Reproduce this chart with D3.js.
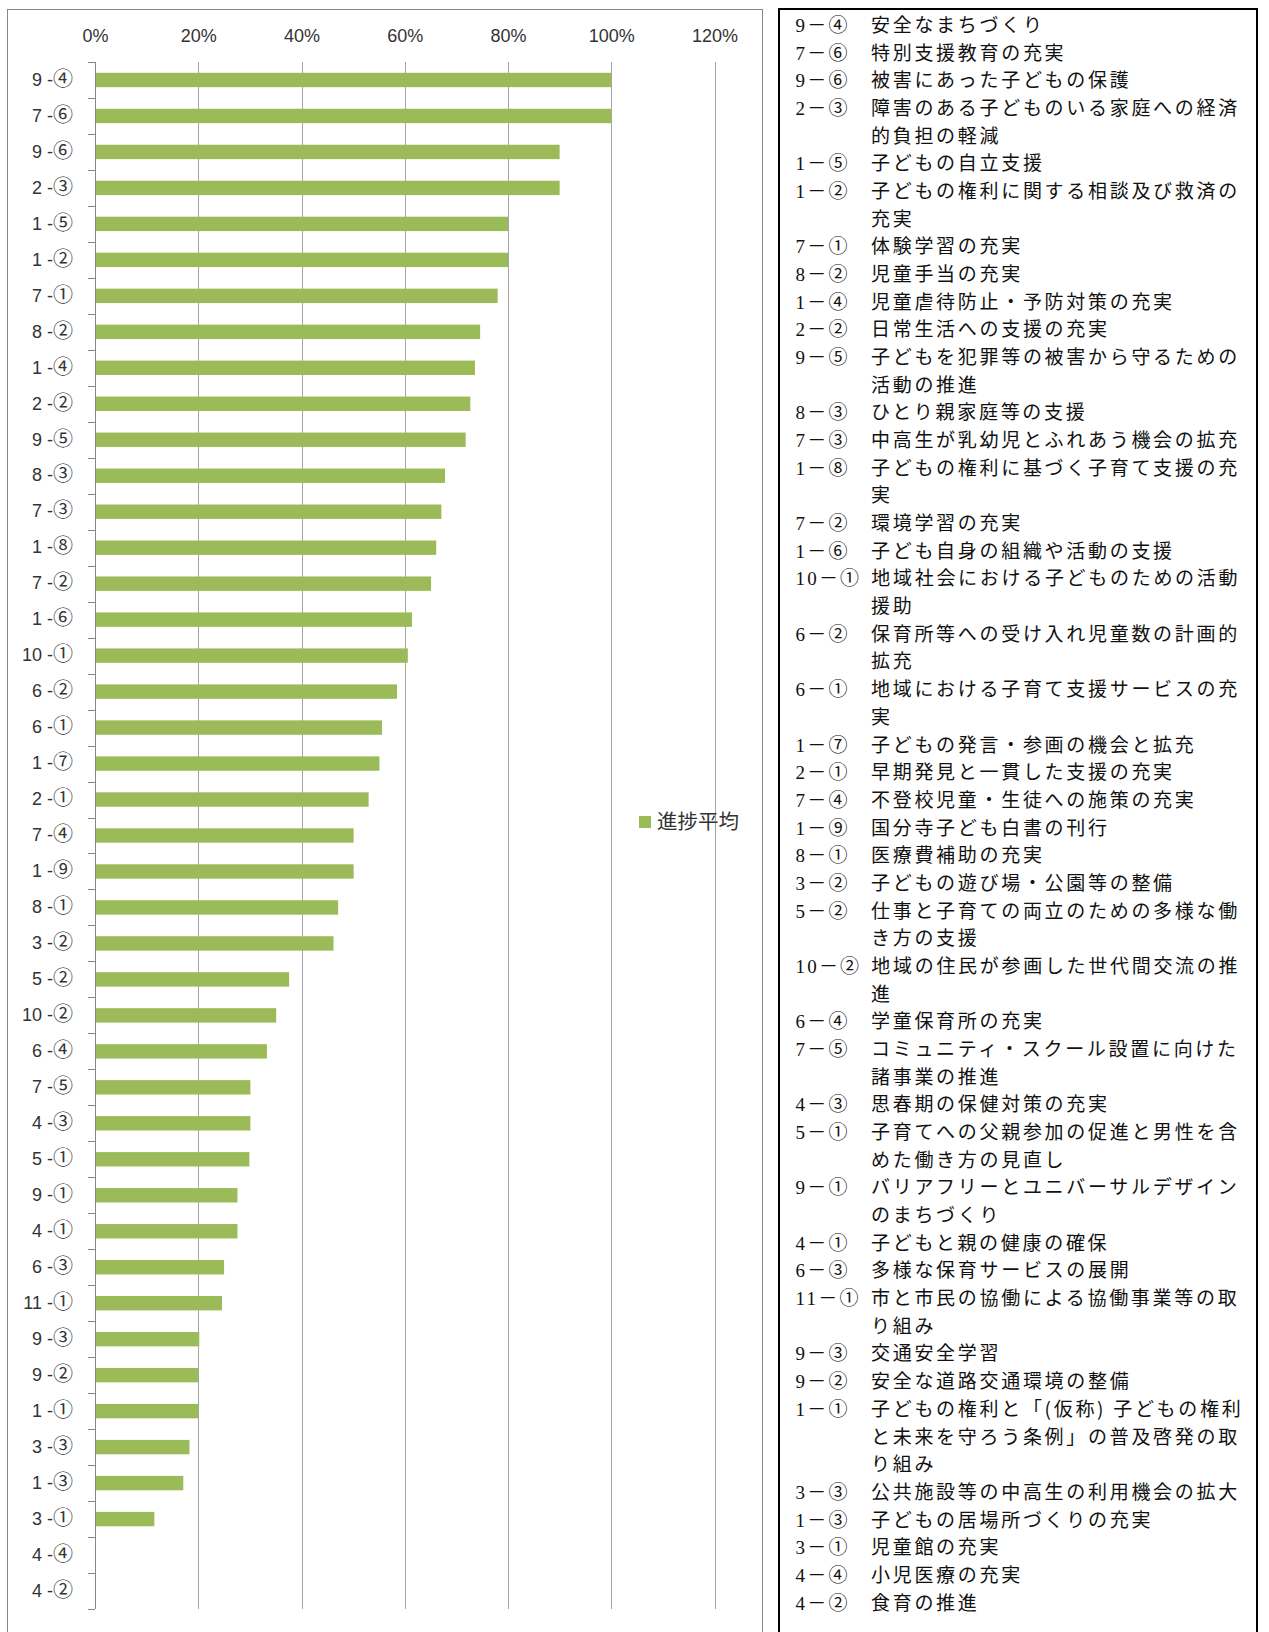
<!DOCTYPE html>
<html lang="ja">
<head>
<meta charset="utf-8">
<title>進捗平均</title>
<script src="https://cdn.jsdelivr.net/npm/d3@7"></script>
<style>
  html, body { margin: 0; padding: 0; background: #fff; }
  svg { display: block; }
</style>
</head>
<body>
<svg id="chart" width="1269" height="1632"></svg>
<script>
// Measure codes, top to bottom
const categories = [
  "9 -④", "7 -⑥", "9 -⑥", "2 -③", "1 -⑤", "1 -②", "7 -①", "8 -②", "1 -④", "2 -②",
  "9 -⑤", "8 -③", "7 -③", "1 -⑧", "7 -②", "1 -⑥", "10 -①", "6 -②", "6 -①", "1 -⑦",
  "2 -①", "7 -④", "1 -⑨", "8 -①", "3 -②", "5 -②", "10 -②", "6 -④", "7 -⑤", "4 -③",
  "5 -①", "9 -①", "4 -①", "6 -③", "11 -①", "9 -③", "9 -②", "1 -①", "3 -③", "1 -③",
  "3 -①", "4 -④", "4 -②"
];

// Average progress per measure
const progress = [
  1.00, 1.00, 0.90, 0.90, 0.80, 0.80, 0.78, 0.746, 0.736, 0.727,
  0.718, 0.678, 0.671, 0.661, 0.651, 0.614, 0.606, 0.585, 0.556, 0.551,
  0.530, 0.501, 0.501, 0.471, 0.462, 0.376, 0.351, 0.333, 0.301, 0.301,
  0.299, 0.276, 0.276, 0.250, 0.246, 0.202, 0.200, 0.200, 0.183, 0.171,
  0.115, 0, 0
];

const seriesName = "進捗平均";
const tickValues = [0, 0.2, 0.4, 0.6, 0.8, 1.0, 1.2];

// Measure titles, already broken into the lines shown in the side panel
const descriptions = [
  ["安全なまちづくり"],
  ["特別支援教育の充実"],
  ["被害にあった子どもの保護"],
  ["障害のある子どものいる家庭への経済", "的負担の軽減"],
  ["子どもの自立支援"],
  ["子どもの権利に関する相談及び救済の", "充実"],
  ["体験学習の充実"],
  ["児童手当の充実"],
  ["児童虐待防止・予防対策の充実"],
  ["日常生活への支援の充実"],
  ["子どもを犯罪等の被害から守るための", "活動の推進"],
  ["ひとり親家庭等の支援"],
  ["中高生が乳幼児とふれあう機会の拡充"],
  ["子どもの権利に基づく子育て支援の充", "実"],
  ["環境学習の充実"],
  ["子ども自身の組織や活動の支援"],
  ["地域社会における子どものための活動", "援助"],
  ["保育所等への受け入れ児童数の計画的", "拡充"],
  ["地域における子育て支援サービスの充", "実"],
  ["子どもの発言・参画の機会と拡充"],
  ["早期発見と一貫した支援の充実"],
  ["不登校児童・生徒への施策の充実"],
  ["国分寺子ども白書の刊行"],
  ["医療費補助の充実"],
  ["子どもの遊び場・公園等の整備"],
  ["仕事と子育ての両立のための多様な働", "き方の支援"],
  ["地域の住民が参画した世代間交流の推", "進"],
  ["学童保育所の充実"],
  ["コミュニティ・スクール設置に向けた", "諸事業の推進"],
  ["思春期の保健対策の充実"],
  ["子育てへの父親参加の促進と男性を含", "めた働き方の見直し"],
  ["バリアフリーとユニバーサルデザイン", "のまちづくり"],
  ["子どもと親の健康の確保"],
  ["多様な保育サービスの展開"],
  ["市と市民の協働による協働事業等の取", "り組み"],
  ["交通安全学習"],
  ["安全な道路交通環境の整備"],
  ["子どもの権利と「(仮称) 子どもの権利", "と未来を守ろう条例」の普及啓発の取", "り組み"],
  ["公共施設等の中高生の利用機会の拡大"],
  ["子どもの居場所づくりの充実"],
  ["児童館の充実"],
  ["小児医療の充実"],
  ["食育の推進"]
];

const barColor = "#9BBB59";
const gridColor = "#A5A5A5";
const axisColor = "#868686";
const latinFont = "'Liberation Sans', Arial, 'Noto Sans CJK JP', sans-serif";
const cjkFont = "'Noto Sans CJK JP', 'Noto Sans CJK SC', sans-serif";

const svg = d3.select("#chart");

// ---- chart frame ----
svg.append("rect")
  .attr("x", 7.5).attr("y", 9.5)
  .attr("width", 755).attr("height", 1640)
  .attr("fill", "#fff")
  .attr("stroke", axisColor).attr("stroke-width", 1);

const plot = { left: 95, right: 714.5, top: 62, bottom: 1609 };

const x = d3.scaleLinear().domain([0, 1.2]).range([plot.left, plot.right]);
const y = d3.scaleBand()
  .domain(categories)
  .range([plot.top, plot.bottom])
  .paddingInner(0.6)
  .paddingOuter(0.3);

const crisp = v => Math.round(v) + 0.5;

// vertical gridlines
svg.append("g")
  .selectAll("line")
  .data(tickValues.filter(d => d > 0))
  .join("line")
  .attr("x1", d => crisp(x(d))).attr("x2", d => crisp(x(d)))
  .attr("y1", plot.top).attr("y2", plot.bottom)
  .attr("stroke", gridColor).attr("stroke-width", 1);

// bars
svg.append("g")
  .selectAll("rect")
  .data(categories.map((c, i) => ({ c, v: progress[i] })))
  .join("rect")
  .attr("x", x(0))
  .attr("y", d => y(d.c))
  .attr("width", d => x(d.v) - x(0))
  .attr("height", y.bandwidth())
  .attr("fill", barColor);

// value axis along the top
const xAxis = svg.append("g")
  .attr("transform", `translate(0,${plot.top})`)
  .call(d3.axisTop(x).tickValues(tickValues).tickFormat(d3.format(".0%")).tickSize(0).tickPadding(20.5));
xAxis.select(".domain").remove();
xAxis.selectAll("text")
  .attr("font-family", latinFont)
  .attr("font-size", 18)
  .attr("fill", "#333");

// category axis on the left; the circled number is set a little larger
const yAxis = svg.append("g")
  .attr("transform", `translate(${plot.left},0)`)
  .call(d3.axisLeft(y).tickSize(0).tickPadding(22));
yAxis.select(".domain").remove();
yAxis.selectAll("text")
  .attr("font-family", latinFont)
  .attr("font-size", 18)
  .attr("fill", "#333")
  .each(function (d) {
    const t = d3.select(this).text("");
    t.append("tspan").text(d.slice(0, -1));
    t.append("tspan")
      .attr("font-family", cjkFont)
      .attr("font-size", 20)
      .text(d.slice(-1));
  });

// axis line and tick marks at category boundaries
svg.append("line")
  .attr("x1", crisp(plot.left)).attr("x2", crisp(plot.left))
  .attr("y1", plot.top).attr("y2", plot.bottom)
  .attr("stroke", axisColor);
const halfGap = y.step() * y.paddingInner() / 2;
const boundaries = categories.map(c => y(c) - halfGap).concat([y(categories[categories.length - 1]) + y.bandwidth() + halfGap]);
svg.append("g")
  .selectAll("line")
  .data(boundaries)
  .join("line")
  .attr("x1", plot.left - 7).attr("x2", plot.left)
  .attr("y1", d => crisp(d)).attr("y2", d => crisp(d))
  .attr("stroke", axisColor);

// legend
const legend = svg.append("g").attr("transform", "translate(639,822)");
legend.append("rect")
  .attr("x", 0).attr("y", -6)
  .attr("width", 12).attr("height", 12)
  .attr("fill", barColor);
legend.append("text")
  .attr("x", 18).attr("y", 0)
  .attr("dy", "0.36em")
  .attr("font-family", cjkFont)
  .attr("font-size", 20.5)
  .attr("fill", "#333")
  .text(seriesName);

// ---- side panel with measure titles ----
svg.append("rect")
  .attr("x", 779).attr("y", 9)
  .attr("width", 478).attr("height", 1640)
  .attr("fill", "#fff")
  .attr("stroke", "#000").attr("stroke-width", 2);

const panel = svg.append("g");
const lineH = 27.68;
const firstLine = 25;
const codeX = 795.5;
const textX = 871;
const panelFont = 19;
const charSpacing = 2.7;
let lineIdx = 0;
categories.forEach((c, i) => {
  const code = c.replace(" -", "－");
  const yy = firstLine + lineIdx * lineH;
  const codeText = panel.append("text")
    .attr("x", codeX).attr("y", yy)
    .attr("dy", "0.36em")
    .attr("font-family", "'Liberation Serif', " + cjkFont)
    .attr("font-size", panelFont)
    .attr("letter-spacing", 2.2)
    .attr("fill", "#111")
    .text(code);
  const codeEnd = codeX + codeText.node().getComputedTextLength();
  const startX = Math.max(textX, codeEnd + 10);
  descriptions[i].forEach((line, k) => {
    panel.append("text")
      .attr("x", k === 0 ? startX : textX)
      .attr("y", firstLine + (lineIdx + k) * lineH)
      .attr("dy", "0.36em")
      .attr("font-family", cjkFont)
      .attr("font-size", panelFont)
      .attr("letter-spacing", charSpacing)
      .attr("fill", "#111")
      .text(line);
  });
  lineIdx += descriptions[i].length;
});
</script>
</body>
</html>
